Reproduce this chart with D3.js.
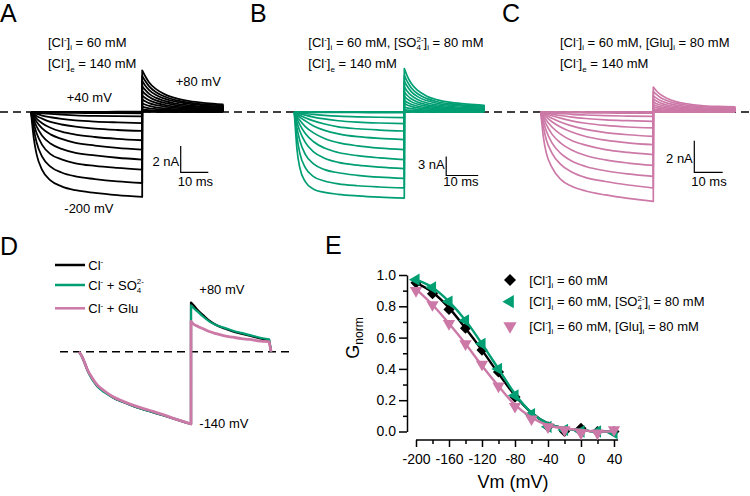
<!DOCTYPE html>
<html><head><meta charset="utf-8">
<script src="https://cdn.jsdelivr.net/npm/d3@7"></script>
<style>
body{margin:0;background:#fff}
svg{display:block;font-family:"Liberation Sans",Arial,Helvetica,sans-serif}
</style>
</head><body>
<svg id="chart" width="750" height="496"></svg>
<script>
// ---------------- DATA ----------------
const voltages = [-200,-180,-160,-140,-120,-100,-80,-60,-40,-20,0,20,40];
const actTimes = [0,1,2,4,7,11,16,23,31,40];      // ms, test pulse
const tailTimes = [0,1,2.5,5,8,12,17,23,29];      // ms after step to +80 mV

// Panel A (nA)
const actA = [
 [0,-2.0,-3.2,-4.4,-5.2,-5.65,-5.95,-6.15,-6.32,-6.46],
 [0,-1.3,-2.3,-3.4,-4.15,-4.6,-4.9,-5.1,-5.27,-5.4],
 [0,-0.9,-1.6,-2.5,-3.2,-3.6,-3.9,-4.1,-4.25,-4.38],
 [0,-0.6,-1.1,-1.8,-2.4,-2.8,-3.1,-3.3,-3.48,-3.62],
 [0,-0.4,-0.75,-1.25,-1.7,-2.05,-2.35,-2.55,-2.73,-2.86],
 [0,-0.25,-0.5,-0.85,-1.2,-1.5,-1.72,-1.9,-2.04,-2.15],
 [0,-0.15,-0.3,-0.5,-0.75,-0.95,-1.12,-1.27,-1.37,-1.44],
 [0,-0.08,-0.15,-0.27,-0.4,-0.53,-0.64,-0.73,-0.79,-0.84],
 [0,-0.03,-0.06,-0.1,-0.15,-0.2,-0.25,-0.29,-0.31,-0.33],
 [0,-0.01,-0.02,-0.03,-0.05,-0.06,-0.07,-0.08,-0.09,-0.1],
 [0,0,0,0,0,-0.01,-0.01,-0.01,-0.02,-0.02],
 [0,0,0,0,0,0,0,0,0,0],
 [0,0,0,0,0.01,0.01,0.01,0.01,0.02,0.02]
];
const tailA = [
 [3.17,2.76,2.25,1.74,1.36,1.05,0.82,0.67,0.57],
 [2.75,2.39,1.95,1.51,1.18,0.91,0.72,0.58,0.5],
 [2.35,2.04,1.67,1.29,1.01,0.78,0.61,0.49,0.42],
 [1.95,1.7,1.38,1.07,0.84,0.64,0.51,0.41,0.35],
 [1.6,1.39,1.14,0.88,0.69,0.53,0.42,0.34,0.29],
 [1.25,1.09,0.89,0.69,0.54,0.41,0.33,0.26,0.23],
 [0.95,0.83,0.67,0.52,0.41,0.31,0.25,0.2,0.17],
 [0.65,0.57,0.46,0.36,0.28,0.21,0.17,0.14,0.12],
 [0.4,0.35,0.28,0.22,0.17,0.13,0.1,0.08,0.07],
 [0.2,0.17,0.14,0.11,0.09,0.07,0.05,0.04,0.04],
 [0.1,0.09,0.07,0.06,0.04,0.03,0.03,0.02,0.02],
 [0.05,0.04,0.04,0.03,0.02,0.02,0.01,0.01,0.01],
 [0.03,0.03,0.02,0.02,0.01,0.01,0.01,0.01,0.01]
];
// Panel B (nA)
const actB = [
 [0,-6.0,-8.8,-11.0,-12.2,-12.7,-13.0,-13.25,-13.45,-13.6],
 [0,-4.0,-6.5,-8.8,-10.2,-10.9,-11.35,-11.65,-11.85,-12.0],
 [0,-2.6,-4.5,-6.7,-8.2,-9.1,-9.6,-10.0,-10.3,-10.5],
 [0,-1.7,-3.0,-4.8,-6.3,-7.3,-7.95,-8.4,-8.7,-8.94],
 [0,-1.1,-2.0,-3.4,-4.7,-5.7,-6.4,-6.9,-7.25,-7.52],
 [0,-0.7,-1.3,-2.3,-3.3,-4.2,-4.85,-5.35,-5.7,-5.94],
 [0,-0.4,-0.8,-1.4,-2.2,-2.9,-3.45,-3.9,-4.17,-4.36],
 [0,-0.25,-0.5,-0.9,-1.4,-1.9,-2.35,-2.65,-2.85,-3.0],
 [0,-0.15,-0.28,-0.5,-0.8,-1.1,-1.38,-1.6,-1.74,-1.83],
 [0,-0.07,-0.13,-0.24,-0.38,-0.52,-0.65,-0.76,-0.83,-0.88],
 [0,-0.01,-0.02,-0.03,-0.05,-0.06,-0.07,-0.08,-0.09,-0.1],
 [0,0,0,0,0,0,0,0,0,0],
 [0,0,0,0,0,0,0,0.01,0.01,0.01]
];
const tailB = [
 [6.86,5.76,4.53,3.36,2.54,1.92,1.51,1.23,1.06],
 [5.8,4.87,3.83,2.84,2.15,1.62,1.28,1.04,0.9],
 [4.88,4.1,3.22,2.39,1.81,1.37,1.07,0.88,0.76],
 [3.95,3.32,2.61,1.94,1.46,1.11,0.87,0.71,0.61],
 [3.16,2.65,2.09,1.55,1.17,0.88,0.7,0.57,0.49],
 [2.48,2.08,1.64,1.22,0.92,0.69,0.55,0.45,0.38],
 [1.85,1.55,1.22,0.91,0.68,0.52,0.41,0.33,0.29],
 [1.33,1.12,0.88,0.65,0.49,0.37,0.29,0.24,0.21],
 [0.79,0.66,0.52,0.39,0.29,0.22,0.17,0.14,0.12],
 [0.38,0.32,0.25,0.19,0.14,0.11,0.08,0.07,0.06],
 [0.15,0.13,0.1,0.07,0.06,0.04,0.03,0.03,0.02],
 [0.05,0.04,0.03,0.02,0.02,0.01,0.01,0.01,0.01],
 [0.02,0.02,0.01,0.01,0.01,0.01,0,0,0]
];
// Panel C (nA)
const actC = [
 [0,-1.65,-2.6,-3.5,-4.25,-4.7,-5.0,-5.25,-5.47,-5.66],
 [0,-1.0,-1.75,-2.6,-3.3,-3.8,-4.15,-4.4,-4.62,-4.81],
 [0,-0.65,-1.2,-1.95,-2.6,-3.1,-3.45,-3.72,-3.92,-4.08],
 [0,-0.42,-0.8,-1.4,-1.95,-2.4,-2.75,-3.03,-3.23,-3.38],
 [0,-0.27,-0.52,-0.95,-1.4,-1.8,-2.1,-2.38,-2.56,-2.7],
 [0,-0.17,-0.33,-0.62,-0.95,-1.27,-1.55,-1.78,-1.95,-2.07],
 [0,-0.1,-0.2,-0.4,-0.63,-0.88,-1.1,-1.3,-1.44,-1.54],
 [0,-0.06,-0.12,-0.24,-0.39,-0.56,-0.71,-0.85,-0.95,-1.01],
 [0,-0.03,-0.06,-0.13,-0.22,-0.32,-0.41,-0.5,-0.55,-0.59],
 [0,-0.01,-0.03,-0.06,-0.1,-0.15,-0.19,-0.23,-0.26,-0.28],
 [0,0,-0.01,-0.02,-0.03,-0.04,-0.05,-0.06,-0.07,-0.08],
 [0,0,0,0,0,0,0,0,0,0],
 [0,0,0,0,0,0,0,0.01,0.01,0.01]
];
const tailC = [
 [1.58,1.36,1.11,0.85,0.66,0.52,0.41,0.35,0.32],
 [1.31,1.13,0.92,0.71,0.55,0.43,0.34,0.29,0.26],
 [1.04,0.89,0.73,0.56,0.44,0.34,0.27,0.23,0.21],
 [0.82,0.71,0.57,0.44,0.34,0.27,0.21,0.18,0.16],
 [0.63,0.54,0.44,0.34,0.26,0.21,0.16,0.14,0.13],
 [0.46,0.4,0.32,0.25,0.19,0.15,0.12,0.1,0.09],
 [0.32,0.28,0.22,0.17,0.13,0.11,0.08,0.07,0.06],
 [0.19,0.16,0.13,0.1,0.08,0.06,0.05,0.04,0.04],
 [0.1,0.09,0.07,0.05,0.04,0.03,0.03,0.02,0.02],
 [0.04,0.03,0.03,0.02,0.02,0.01,0.01,0.01,0.01],
 [0.01,0.01,0.01,0.01,0,0,0,0,0],
 [0,0,0,0,0,0,0,0,0],
 [0,0,0,0,0,0,0,0,0]
];

// Panel D (normalised to -140 mV end current)
const dActTimes = [0,1,2,3,4.5,6.5,9,12,16,20,25,30,35,40];
const dTailTimes = [0,1,2.5,4.2,6.5,9,12,15,18,21,24,27.9];
const dNames = ["Cl", "Cl + SO4", "Cl + Glu"];
const dActCl  = [0,-0.06,-0.15,-0.25,-0.36,-0.47,-0.55,-0.63,-0.7,-0.76,-0.82,-0.88,-0.94,-1.0];
const dActSO4 = [0,-0.07,-0.16,-0.26,-0.37,-0.48,-0.56,-0.63,-0.7,-0.76,-0.82,-0.88,-0.94,-1.0];
const dActGlu = [0,-0.06,-0.15,-0.25,-0.35,-0.46,-0.54,-0.62,-0.69,-0.75,-0.81,-0.87,-0.94,-1.0];
const dTailCl  = [0.68,0.64,0.57,0.51,0.43,0.37,0.32,0.28,0.25,0.22,0.19,0.16];
const dTailSO4 = [0.64,0.6,0.55,0.49,0.42,0.37,0.33,0.29,0.26,0.23,0.2,0.17];
const dTailGlu = [0.42,0.38,0.35,0.32,0.28,0.25,0.22,0.2,0.18,0.17,0.15,0.14];

// Panel E
const vmE = [-200,-180,-160,-140,-120,-100,-80,-60,-40,-20,0,20,40];
const gCl  = [0.95,0.88,0.78,0.66,0.52,0.38,0.22,0.10,0.03,0.00,0.02,0.00,0.00];
const gSO4 = [0.97,0.92,0.83,0.71,0.56,0.40,0.23,0.11,0.03,0.01,0.00,0.00,-0.01];
const gGlu = [0.90,0.81,0.69,0.56,0.43,0.29,0.16,0.08,0.03,0.01,-0.01,-0.01,0.01];
const fitCl  = [0.95,0.89,0.79,0.66,0.52,0.37,0.23,0.12,0.05,0.02,0.01,0.00,0.00];
const fitSO4 = [0.97,0.92,0.83,0.71,0.56,0.40,0.24,0.12,0.05,0.02,0.01,0.00,0.00];
const fitGlu = [0.91,0.81,0.69,0.56,0.42,0.29,0.17,0.09,0.04,0.02,0.01,0.00,0.00];
const xTicksE = [-200,-160,-120,-80,-40,0,40];
const xMinorE = [-180,-140,-100,-60,-20,20];
const yTicksE = [0,0.2,0.4,0.6,0.8,1.0];
const yMinorE = [0.1,0.3,0.5,0.7,0.9];

// ---------------- DRAWING ----------------
const BLACK = "#000", GREEN = "#009E73", PINK = "#CC79A7";
const svg = d3.select("#chart");
const FS = 13;

function rich(g, x, y, parts, size, anchor) {
  const t = g.append("text").attr("x", x).attr("y", y).attr("font-size", size).attr("fill", "#000");
  if (anchor) t.attr("text-anchor", anchor);
  let cur = 0, prev = null;
  const small = Math.round(size * 0.62);
  parts.forEach(p => {
    const s = typeof p === "string" ? p : p[0];
    const kind = typeof p === "string" ? "" : p[1];
    let off = 0, fs = size;
    if (kind === "sup" || kind === "stack") { off = -size * 0.4; fs = small; }
    else if (kind === "sub") { off = size * 0.28; fs = small; }
    const ts = t.append("tspan").attr("dy", off - cur).attr("font-size", fs).text(s);
    if (kind === "stack" && prev) ts.attr("dx", -prev.node().getComputedTextLength());
    cur = off; prev = ts;
  });
  return t;
}
const CLi = ["[Cl", ["-","sup"], "]", ["i","sub"]];
const CLe = ["[Cl", ["-","sup"], "]", ["e","sub"]];
const SO4 = ["[SO", ["4","sub"], ["2-","stack"], "]", ["i","sub"]];

function letter(txt, x, y) {
  svg.append("text").attr("x", x).attr("y", y).attr("font-size", 25).text(txt);
}

// Panel configuration (positions only)
const panels = [
  {act: actA, tail: tailA, color: BLACK, x0: 31, pxms: 2.78, base: 112, pxna: 13.15, lw: 1.8,
   bar: {x: 180.7, y: 172.3, na: 2, w: 27.6}, nLab: "2 nA", nLabY: 165.7, letter: "A", lx: 0},
  {act: actB, tail: tailB, color: GREEN, x0: 294.3, pxms: 2.75, base: 112, pxna: 6.33, lw: 1.7,
   bar: {x: 446.2, y: 175.5, na: 3, w: 32}, nLab: "3 nA", nLabY: 169, letter: "B", lx: 250},
  {act: actC, tail: tailC, color: PINK, x0: 540.7, pxms: 2.815, base: 112, pxna: 15.8, lw: 1.7,
   bar: {x: 694.3, y: 172.3, na: 2, w: 28.4}, nLab: "2 nA", nLabY: 163.3, letter: "C", lx: 502}
];

// Dashed zero line across A-C
svg.append("line").attr("x1", 0).attr("x2", 750).attr("y1", 112).attr("y2", 112)
  .attr("stroke", "#000").attr("stroke-width", 1.4).attr("stroke-dasharray", "8,5");

const pulseEnd = actTimes[actTimes.length - 1];
const tailEnd = tailTimes[tailTimes.length - 1];

panels.forEach(P => {
  const total = pulseEnd + tailEnd;
  const xs = d3.scaleLinear().domain([0, total]).range([P.x0, P.x0 + total * P.pxms]);
  const ys = d3.scaleLinear().domain([-1, 1]).range([P.base + P.pxna, P.base - P.pxna]);
  const line = d3.line().x(d => xs(d[0])).y(d => ys(d[1])).curve(d3.curveMonotoneX);
  const g = svg.append("g");
  P.act.forEach((a, i) => {
    const ap = actTimes.map((t, j) => [t, a[j]]);
    const tp = tailTimes.map((t, j) => [pulseEnd + t, P.tail[i][j]]);
    const d = line(ap) + line(tp).replace(/^M/, "L") + "L" + xs(pulseEnd + tailEnd) + "," + ys(0);
    g.append("path").attr("d", d).attr("fill", "none").attr("stroke", P.color)
      .attr("stroke-width", P.lw).attr("stroke-linejoin", "round");
  });
  // scale bar
  const bx = P.bar.x, by = P.bar.y;
  const hb = P.bar.na * P.pxna, wb = P.bar.w;
  svg.append("path").attr("d", `M${bx},${by - hb}L${bx},${by}L${bx + wb},${by}`)
    .attr("fill", "none").attr("stroke", "#000").attr("stroke-width", 1.2);
  svg.append("text").attr("x", bx - 1.5).attr("y", P.nLabY).attr("text-anchor", "end")
    .attr("font-size", FS).text(P.nLab);
  svg.append("text").attr("x", bx - 3).attr("y", 185.7).attr("font-size", FS).text("10 ms");
  letter(P.letter, P.lx, 21.7);
});

// Panel headers
rich(svg, 48, 46.7, [...CLi, " = 60 mM"], FS);
rich(svg, 48, 68.3, [...CLe, " = 140 mM"], FS);
svg.append("text").attr("x", 66.7).attr("y", 102.3).attr("font-size", FS).text("+40 mV");
svg.append("text").attr("x", 175.7).attr("y", 86).attr("font-size", FS).text("+80 mV");
svg.append("text").attr("x", 64.3).attr("y", 212.7).attr("font-size", FS).text("-200 mV");

rich(svg, 308.3, 46.7, [...CLi, " = 60 mM, ", ...SO4, " = 80 mM"], FS);
rich(svg, 308.3, 68.3, [...CLe, " = 140 mM"], FS);

rich(svg, 560, 46.7, [...CLi, " = 60 mM, [Glu]", ["i","sub"], " = 80 mM"], FS);
rich(svg, 560, 68.3, [...CLe, " = 140 mM"], FS);

// ---------------- Panel D ----------------
letter("D", 0, 255);
{
  const xs = d3.scaleLinear().domain([0, 70]).range([79, 79 + 70 * 2.8]);
  const ys = d3.scaleLinear().domain([-1, 0]).range([424, 351.7]);
  svg.append("line").attr("x1", 60).attr("x2", 290).attr("y1", ys(0)).attr("y2", ys(0))
    .attr("stroke", "#000").attr("stroke-width", 1.4).attr("stroke-dasharray", "8,5");
  const line = d3.line().x(d => xs(d[0])).y(d => ys(d[1])).curve(d3.curveMonotoneX);
  const dEnd = dActTimes[dActTimes.length - 1];
  const dTailEnd = dTailTimes[dTailTimes.length - 1];
  const series = [
    {act: dActCl, tail: dTailCl, color: BLACK, w: 2.2},
    {act: dActSO4, tail: dTailSO4, color: GREEN, w: 2.2},
    {act: dActGlu, tail: dTailGlu, color: PINK, w: 2.8}
  ];
  series.forEach(s => {
    const ap = dActTimes.map((t, j) => [t, s.act[j]]);
    const tp = dTailTimes.map((t, j) => [dEnd + t, s.tail[j]]);
    const d = line(ap) + line(tp).replace(/^M/, "L") + "L" + (xs(dEnd + dTailEnd) + 2) + "," + ys(0);
    svg.append("path").attr("d", d).attr("fill", "none").attr("stroke", s.color)
      .attr("stroke-width", s.w).attr("stroke-linejoin", "round");
  });
  // legend
  const legY = [265, 285, 308.3];
  const legParts = [
    ["Cl", ["-","sup"]],
    ["Cl", ["-","sup"], " + SO", ["4","sub"], ["2-","stack"]],
    ["Cl", ["-","sup"], " + Glu"]
  ];
  series.forEach((s, i) => {
    svg.append("line").attr("x1", 55).attr("x2", 85).attr("y1", legY[i]).attr("y2", legY[i])
      .attr("stroke", s.color).attr("stroke-width", 2.5);
    rich(svg, 88.3, legY[i] + 4.5, legParts[i], FS);
  });
  svg.append("text").attr("x", 199.3).attr("y", 294).attr("font-size", FS).text("+80 mV");
  svg.append("text").attr("x", 199.3).attr("y", 428.3).attr("font-size", FS).text("-140 mV");
}

// ---------------- Panel E ----------------
letter("E", 325, 254);
{
  const x = d3.scaleLinear().domain([-200, 45]).range([416, 618.1]);
  const y = d3.scaleLinear().domain([0, 1]).range([431.5, 275]);
  const xAxisY = 440, yAxisX = 407;

  const ya = svg.append("g").attr("transform", `translate(${yAxisX},0)`)
    .call(d3.axisLeft(y).tickValues(yTicksE).tickFormat(d3.format(".1f")).tickSize(8).tickSizeOuter(0).tickPadding(3));
  svg.append("g").attr("transform", `translate(${yAxisX},0)`)
    .call(d3.axisLeft(y).tickValues(yMinorE).tickFormat("").tickSize(4).tickSizeOuter(0))
    .select(".domain").remove();
  const xa = svg.append("g").attr("transform", `translate(0,${xAxisY})`)
    .call(d3.axisBottom(x).tickValues(xTicksE).tickFormat(d => String(d)).tickSize(7).tickSizeOuter(0).tickPadding(7));
  svg.append("g").attr("transform", `translate(0,${xAxisY})`)
    .call(d3.axisBottom(x).tickValues(xMinorE).tickFormat("").tickSize(4).tickSizeOuter(0))
    .select(".domain").remove();
  svg.selectAll(".tick line, .domain").attr("stroke-width", 1.5).attr("stroke", "#000");
  [ya, xa].forEach(a => a.selectAll("text").attr("font-size", 14).attr("font-family", "Liberation Sans, Arial, sans-serif").attr("fill", "#000"));
  xa.select(".domain").attr("d", `M${x(-200)},0H${x(45)}`);

  // axis titles
  const gt = svg.append("text").attr("transform", "translate(359,338) rotate(-90)")
    .attr("text-anchor", "middle").attr("font-size", 18);
  gt.append("tspan").text("G");
  gt.append("tspan").attr("font-size", 12).attr("dy", 4).text("norm");
  svg.append("text").attr("x", 513).attr("y", 488).attr("text-anchor", "middle")
    .attr("font-size", 18).text("Vm (mV)");

  const line = d3.line().x((d, i) => x(vmE[i])).y(d => y(d)).curve(d3.curveMonotoneX);
  const sets = [
    {pts: gCl, fit: fitCl, color: BLACK, sym: d3.symbolSquare, rot: 45, size: 62},
    {pts: gSO4, fit: fitSO4, color: GREEN, sym: d3.symbolTriangle, rot: -90, size: 66},
    {pts: gGlu, fit: fitGlu, color: PINK, sym: d3.symbolTriangle, rot: 180, size: 66}
  ];
  sets.forEach(s => {
    svg.append("path").attr("d", line(s.fit)).attr("fill", "none")
      .attr("stroke", s.color).attr("stroke-width", 2.4);
    svg.append("g").selectAll("path").data(s.pts).join("path")
      .attr("d", d3.symbol(s.sym, s.size)())
      .attr("transform", (d, i) => `translate(${x(vmE[i])},${y(d)}) rotate(${s.rot})`)
      .attr("fill", s.color);
  });
  // legend
  const legY = [280, 301.7, 326];
  const legParts = [
    [...CLi, " = 60 mM"],
    [...CLi, " = 60 mM, ", ...SO4, " = 80 mM"],
    [...CLi, " = 60 mM, [Glu]", ["i","sub"], " = 80 mM"]
  ];
  sets.forEach((s, i) => {
    svg.append("path").attr("d", d3.symbol(s.sym, s.size + 10)())
      .attr("transform", `translate(510,${legY[i]}) rotate(${s.rot})`).attr("fill", s.color);
    rich(svg, 529.3, legY[i] + 4.5, legParts[i], FS);
  });
}
</script>
</body></html>
